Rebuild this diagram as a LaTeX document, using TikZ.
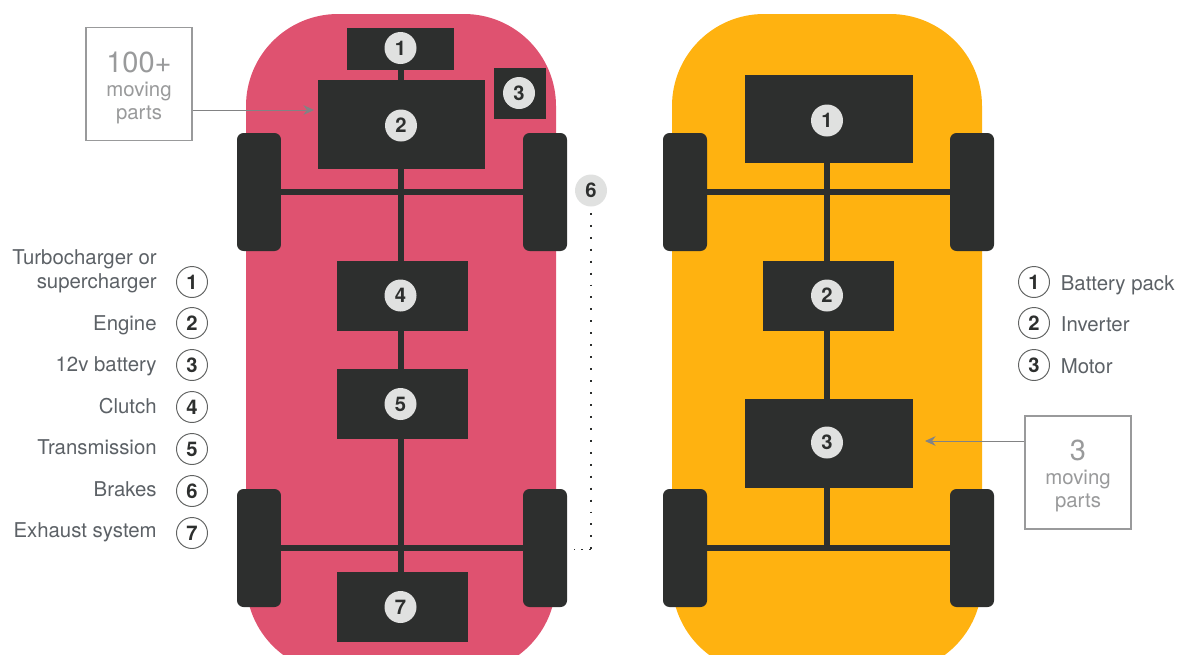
\documentclass[tikz,border=0pt]{standalone}
\usepackage{fontspec}
\setmainfont{TeX Gyre Heros}
\usepackage{tikz}
\usetikzlibrary{arrows.meta, positioning, calc}
\definecolor{carred}{HTML}{DF5270}
\definecolor{caryellow}{HTML}{FFB210}
\definecolor{partdark}{HTML}{2D2F2E}
\definecolor{badgegray}{HTML}{E0E1E0}
\definecolor{legendtext}{HTML}{5C6166}
\definecolor{notegray}{HTML}{999A9B}

\begin{document}
\begin{tikzpicture}[
    x=0.02cm, y=-0.02cm,
    part/.style={rectangle, fill=partdark, inner sep=0pt},
    wheel/.style={rectangle, fill=partdark, rounded corners=0.13cm, minimum width=0.88cm, minimum height=2.36cm, inner sep=0pt},
    badge/.style={circle, fill=badgegray, text=partdark, minimum size=0.64cm, inner sep=0pt, font=\fontsize{11.5}{12}\selectfont\bfseries},
    legendnum/.style={circle, draw=partdark!75, line width=0.55pt, fill=white, text=partdark, minimum size=0.62cm, inner sep=0pt, font=\fontsize{11.5}{12}\selectfont\bfseries},
    legendtxt/.style={text=legendtext, inner sep=0pt, font=\fontsize{11.6}{13.6}\selectfont},
    note/.style={rectangle, draw=notegray, line width=0.7pt, fill=white, minimum width=2.12cm, minimum height=2.26cm, inner sep=0pt},
    notetxt/.style={text=notegray, inner sep=0pt, align=center, font=\fontsize{11.6}{13.4}\selectfont},
    axle/.style={draw=partdark, line width=0.12cm},
    pointer/.style={draw=notegray!85!black, line width=0.5pt, -{Stealth[length=6pt,width=5.5pt]}},
]
    \useasboundingbox (0,0) rectangle (1180,654);
    \clip (0,0) rectangle (1180,654);
    % Car bodies
    \fill[carred, rounded corners=1.84cm] (246,14) rectangle (556,673);
    \fill[caryellow, rounded corners=1.84cm] (672,14) rectangle (982,673);
    % Wheels
    \foreach \name/\x/\y in {fl/259/192, fr/545/192, rl/259/548, rr/545/548, efl/685/192, efr/972/192, erl/685/548, err/972/548} {
        \node[wheel] (\name) at (\x,\y) {};
    }
    % Petrol car parts
    \node[part, minimum width=2.14cm, minimum height=0.84cm] (gasa) at (400.5,49) {};
    \node[part, minimum width=3.34cm, minimum height=1.78cm] (gasb) at (401.5,124.5) {};
    \node[part, minimum width=1.04cm, minimum height=1.02cm] (gasc) at (520,93.5) {};
    \node[part, minimum width=2.62cm, minimum height=1.40cm] (gasd) at (402.5,296) {};
    \node[part, minimum width=2.62cm, minimum height=1.40cm] (gase) at (402.5,404) {};
    \node[part, minimum width=2.62cm, minimum height=1.40cm] (gasg) at (402.5,607) {};
    \draw[axle] (fl) -- (fr);
    \draw[axle] (rl) -- (rr);
    \draw[axle] (gasa.south -| 400.5,0) -- (gasg.north -| 400.5,0);
    % Electric car parts
    \node[part, minimum width=3.36cm, minimum height=1.76cm] (eva) at (829,119) {};
    \node[part, minimum width=2.62cm, minimum height=1.40cm] (evb) at (828.5,296) {};
    \node[part, minimum width=3.36cm, minimum height=1.78cm] (evc) at (829,443.5) {};
    \coordinate (evaxle) at (827,548);
    \draw[axle] (efl) -- (efr);
    \draw[axle] (erl) -- (err);
    \draw[axle] (eva.south -| evaxle) -- (evaxle);
    % Part numbers
    \foreach \name/\x/\y/\n in {a/400.5/48/1, b/401/125.5/2, c/519/93/3, d/400.5/295.5/4, e/400.5/404/5, f/591/190.5/6, g/400.5/607/7} {
        \node[badge] (num\name) at (\x,\y) {\n};
    }
    \foreach \name/\x/\y/\n in {p/827/120.5/1, q/827/295.5/2, r/827/442.5/3} {
        \node[badge] (num\name) at (\x,\y) {\n};
    }
    % Brakes leader
    \coordinate (brakes) at (591,549.5);
    \coordinate (brakesend) at (574,549.5);
    \draw[partdark, line width=1.1pt, dash pattern=on 1.1pt off 5.7pt] (numf.south) ++(0,6) -- (brakes);
    \draw[partdark, line width=1.1pt, dash pattern=on 1.1pt off 3.4pt] (brakes) -- (brakesend);
    % Left legend
    \foreach \i/\y in {1/282, 2/323, 3/365, 4/407, 5/449, 6/491, 7/533} {
        \node[legendnum] (leg\i) at (192,\y) {\i};
    }
    \node[legendtxt, align=right, anchor=south east] (legtxta) at (157,293) {Turbocharger or\\supercharger};
    \node[legendtxt, anchor=base east] (legtxtb) at (157,330) {Engine};
    \node[legendtxt, anchor=base east] (legtxtc) at (157,371) {12v battery};
    \node[legendtxt, anchor=base east] (legtxtd) at (157,413) {Clutch};
    \node[legendtxt, anchor=base east] (legtxte) at (157,454) {Transmission};
    \node[legendtxt, anchor=base east] (legtxtf) at (157,496) {Brakes};
    \node[legendtxt, anchor=base east] (legtxtg) at (157,537) {Exhaust system};
    % Right legend
    \foreach \i/\y/\txt in {1/282/Battery pack, 2/323/Inverter, 3/365/Motor} {
        \node[legendnum] (evleg\i) at (1034,\y) {\i};
        \node[legendtxt, anchor=base west] (evtxt\i) at (1060.5,\y+8) {\txt};
    }
    % Moving parts notes
    \node[note] (notegas) at (139,84) {};
    \node[notetxt] (notegastxt) at (139,88) {{\fontsize{16.5}{19}\selectfont 100+}\\moving\\parts};
    \node[note] (noteev) at (1078,472.5) {};
    \node[notetxt] (noteevtxt) at (1078,476) {{\fontsize{16.5}{19}\selectfont 3}\\moving\\parts};
    \coordinate (gastip) at (314,110);
    \coordinate (evtip) at (925,441);
    \draw[pointer] (notegas.east |- gastip) -- (gastip);
    \draw[pointer] (noteev.west |- evtip) -- (evtip);
\end{tikzpicture}
\end{document}
